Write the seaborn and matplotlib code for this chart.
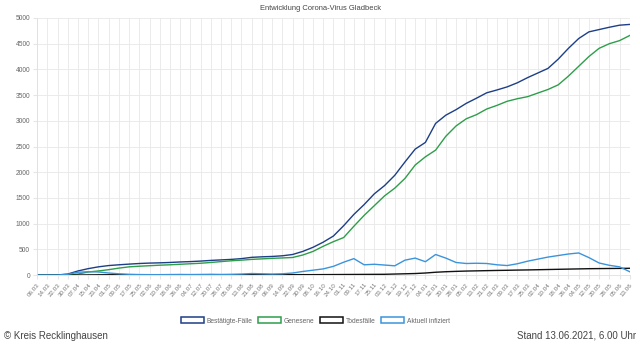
import matplotlib
matplotlib.use("Agg")
import matplotlib.pyplot as plt
from matplotlib.patches import Patch
import seaborn as sns
import pandas as pd
import numpy as np

dates = ["06.03", "14.03", "22.03", "30.03", "07.04", "15.04", "23.04", "01.05", "09.05", "17.05",
         "25.05", "02.06", "10.06", "18.06", "26.06", "04.07", "12.07", "20.07", "28.07", "05.08",
         "13.08", "21.08", "29.08", "06.09", "14.09", "22.09", "30.09", "08.10", "16.10", "24.10",
         "01.11", "09.11", "17.11", "25.11", "03.12", "11.12", "19.12", "27.12", "04.01", "12.01",
         "20.01", "28.01", "05.02", "13.02", "21.02", "01.03", "09.03", "17.03", "25.03", "02.04",
         "10.04", "18.04", "26.04", "04.05", "12.05", "20.05", "28.05", "05.06", "13.06"]

bestaetigt = [0, 0, 2, 20, 80, 125, 160, 185, 200, 213,
              225, 233, 238, 245, 255, 262, 272, 285, 295, 305,
              320, 345, 355, 362, 375, 400, 460, 540, 640, 760,
              960, 1180, 1370, 1580, 1740, 1940, 2200, 2450, 2580, 2950,
              3110, 3217, 3340, 3440, 3545, 3600, 3660, 3740, 3840, 3930,
              4020, 4200, 4410, 4600, 4730, 4775, 4820, 4860, 4875]

genesen = [0, 0, 0, 2, 20, 60, 80, 105, 135, 160,
           172, 182, 192, 200, 210, 220, 230, 245, 262, 278,
           290, 305, 315, 325, 333, 342, 390, 460, 560, 650,
           730, 950, 1160, 1350, 1540, 1690, 1880, 2140, 2300, 2430,
           2700, 2900, 3040, 3120, 3230, 3300, 3380, 3430, 3470, 3540,
           3610, 3700, 3870, 4060, 4250, 4410, 4500, 4560, 4660]

tote = [0, 0, 0, 0, 1, 3, 5, 6, 7, 7,
        7, 7, 7, 7, 7, 7, 7, 7, 7, 7,
        7, 7, 7, 7, 7, 8, 8, 8, 9, 10,
        11, 12, 13, 14, 15, 20, 25, 30, 40, 55,
        65, 72, 78, 82, 86, 90, 93, 97, 100, 104,
        108, 112, 116, 120, 124, 126, 128, 130, 132]

aktuell = [0, 0, 0, 15, 55, 65, 60, 40, 25, 15,
           10, 8, 8, 10, 12, 10, 12, 15, 12, 15,
           20, 30, 25, 20, 25, 40, 70, 95, 120, 170,
           250, 320, 200, 210, 195, 180, 290, 330, 260, 400,
           330, 245, 225, 230, 225, 200, 185, 220, 270, 310,
           350, 380, 410, 430, 340, 235, 190, 160, 65]

series_names = ["Bestätigte-Fälle", "Genesene", "Todesfälle", "Aktuell infiziert"]
colors = ["#1d3f86", "#2e9e4a", "#111111", "#3a94dc"]

days = np.arange(len(dates)) * 8
df = pd.DataFrame({"day": np.tile(days, 4),
                   "wert": bestaetigt + genesen + tote + aktuell,
                   "serie": np.repeat(series_names, len(dates))})

plt.rcParams['font.family'] = ['Liberation Sans', 'DejaVu Sans']
fig = plt.figure(figsize=(6.4, 3.46), dpi=100)
ax = fig.add_axes([0.058, 0.205, 0.926, 0.743])

sns.lineplot(data=df, x="day", y="wert", hue="serie", hue_order=series_names,
             palette=colors, linewidth=1.0, legend=False, ax=ax)

ax.set_xlim(days[0], days[-1])
ax.set_ylim(0, 5000)
ax.set_yticks(np.arange(0, 5001, 500))
ax.set_yticklabels([str(v) for v in range(0, 5001, 500)], fontsize=4.8, color="#666666")
ax.set_xticks(days)
ax.set_xticklabels(dates, rotation=50, ha="right", rotation_mode="anchor",
                   fontsize=4.5, color="#777777")
ax.tick_params(axis="both", length=3, color="#e6e6e6", pad=2)
ax.grid(True, color="#e8e8e8", linewidth=0.6)
ax.set_axisbelow(True)
for s in ["top", "right"]:
    ax.spines[s].set_visible(False)
for s in ["left", "bottom"]:
    ax.spines[s].set_color("#e0e0e0")
    ax.spines[s].set_linewidth(0.6)
ax.set_xlabel("")
ax.set_ylabel("")

fig.text(0.5, 0.975, "Entwicklung Corona-Virus Gladbeck", ha="center", va="center",
         fontsize=5.4, color="#444444")

handles = [Patch(facecolor="white", edgecolor=c, linewidth=1.1) for c in colors]
leg = fig.legend(handles, series_names, loc="center", bbox_to_anchor=(0.493, 0.072),
                 ncol=4, frameon=False, fontsize=4.8, handlelength=3.4, handleheight=1.0,
                 columnspacing=0.8, handletextpad=0.5)
for t in leg.get_texts():
    t.set_color("#666666")

fig.text(0.006, 0.03, "© Kreis Recklinghausen", ha="left", va="center", fontsize=7, color="#444444")
fig.text(0.994, 0.03, "Stand 13.06.2021, 6.00 Uhr", ha="right", va="center", fontsize=7, color="#444444")

fig.savefig("out.png", dpi=100)
